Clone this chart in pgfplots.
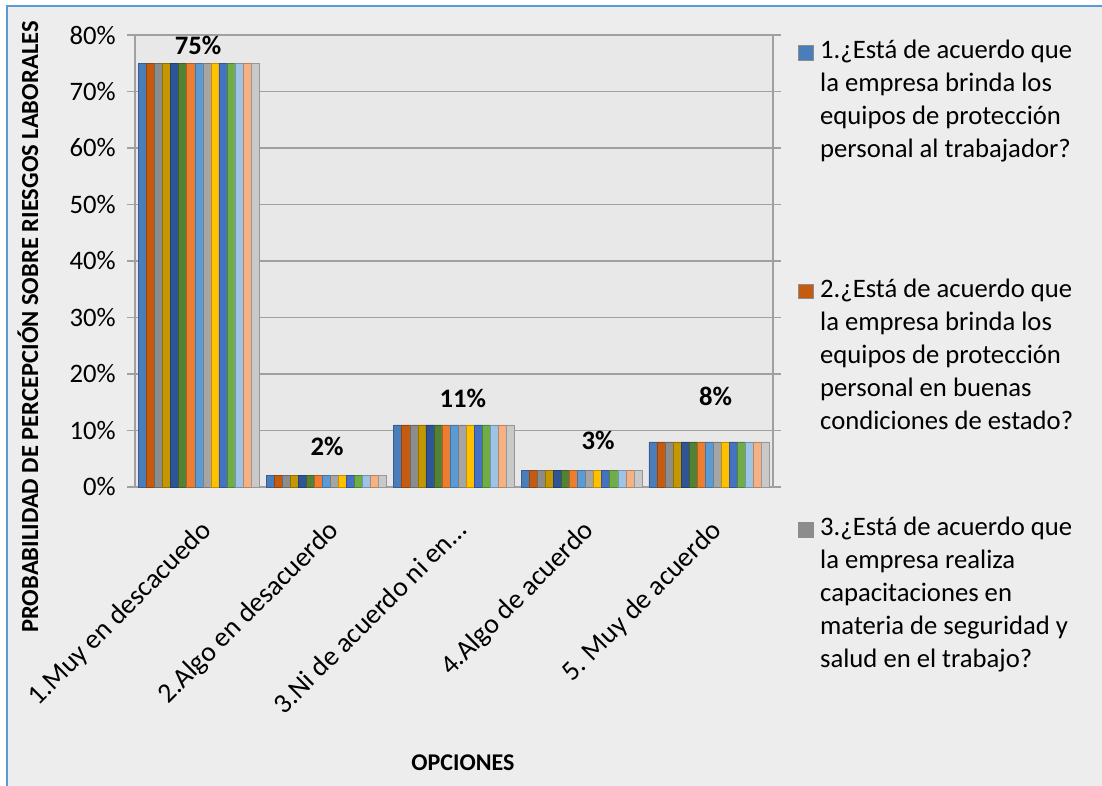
\documentclass[border=0pt]{standalone}
\usepackage{fontspec}
\setmainfont{Carlito}
\usepackage{pgfplots}
\pgfplotsset{compat=1.18}
\definecolor{bg}{HTML}{EDEDED}
\definecolor{wall}{HTML}{E8E8E8}
\definecolor{bord}{HTML}{5B9BD5}
\definecolor{gridc}{HTML}{A0A0A0}
\definecolor{c1}{HTML}{4A7EBB}
\definecolor{c2}{HTML}{C55A11}
\definecolor{c3}{HTML}{8C8C8C}
\definecolor{c4}{HTML}{C49600}
\definecolor{c5}{HTML}{2F5597}
\definecolor{c6}{HTML}{548235}
\definecolor{c7}{HTML}{ED7D31}
\definecolor{c8}{HTML}{5B9BD5}
\definecolor{c9}{HTML}{A5A5A5}
\definecolor{c10}{HTML}{FFC000}
\definecolor{c11}{HTML}{4472C4}
\definecolor{c12}{HTML}{70AD47}
\definecolor{c13}{HTML}{9DC3E6}
\definecolor{c14}{HTML}{F4B183}
\definecolor{c15}{HTML}{C9C9C9}
\newcommand\fs{\fontsize{20}{24}\selectfont}
\newcommand\legtext[1]{\parbox[t][179pt][t]{225pt}{\fontsize{20}{24.75}\selectfont #1}}
\pgfplotsset{
  mybar/.style={ybar, bar width=0.063, bar shift=#1},
  sq/.style={legend image code/.code={\draw[##1, draw=black!45, line width=0.4pt] (0pt,-1pt) rectangle (11pt,10pt);}},
}
\begin{document}
\begin{tikzpicture}
\path[use as bounding box] (0,0) rectangle (826.5pt,588.75pt);
\fill[white] (0,0) rectangle (826.5pt,588.75pt);
\draw[fill=bg, draw=bord, line width=1.5pt] (5.25pt,-5pt) rectangle (835pt,584.25pt);
\begin{axis}[
  at={(101.25pt,223.5pt)}, anchor=south west,
  scale only axis, width=478.5pt, height=339pt,
  xmin=0.5, xmax=5.5, ymin=0, ymax=80,
  axis background/.style={fill=wall},
  axis line style={draw=gridc, line width=1.1pt},
  ymajorgrids, grid style={draw=gridc, line width=1.1pt},
  tick align=outside, tick style={draw=gridc, line width=1pt},
  major tick length=6pt,
  ytick={0,10,...,80},
  yticklabel={\pgfmathprintnumber{\tick}\%},
  /pgf/number format/assume math mode=true,
  xtick={1,2,3,4,5},
  xticklabels={1.Muy en descacuedo, 2.Algo en desacuerdo, 3.Ni de acuerdo ni en…, 4.Algo de acuerdo, 5. Muy de acuerdo},
  x tick style={draw=none},
  extra x ticks={0.5,1.5,2.5,3.5,4.5,5.5},
  extra x tick labels={},
  extra x tick style={tick style={draw=gridc, line width=1pt}},
  xticklabel style={font=\fontsize{20.8}{24}\selectfont, rotate=45, anchor=north east, xshift=-9pt, yshift=-9pt},
  yticklabel style={font=\fs, xshift=-5pt},
  xlabel={\bfseries OPCIONES},
  xlabel style={font=\fontsize{18}{21}\selectfont, at={(axis description cs:0.514,-0.611)}, anchor=center},
  ylabel={\bfseries PROBABILIDAD DE PERCEPCIÓN SOBRE RIESGOS LABORALES},
  ylabel style={font=\fontsize{18.4}{21}\selectfont, at={(axis description cs:-0.168,0.354)}, anchor=center, rotate=0},
  legend style={at={(axis description cs:1.033,0.9956)}, anchor=north west, draw=none, fill=none,
    nodes={inner sep=0pt, anchor=base west, text depth={}, text height={}}, row sep=0pt, column sep=5pt},
  legend cell align=left,
]
\addplot[mybar=-0.441, fill=c1, draw=c1!75!black, sq] coordinates {(1,75) (2,2) (3,11) (4,3) (5,8)};
\addlegendentry{\legtext{1.¿Está de acuerdo que\\la empresa brinda los\\equipos de protección\\personal al trabajador?}}
\addplot[mybar=-0.378, fill=c2, draw=c2!75!black, sq] coordinates {(1,75) (2,2) (3,11) (4,3) (5,8)};
\addlegendentry{\legtext{2.¿Está de acuerdo que\\la empresa brinda los\\equipos de protección\\personal en buenas\\condiciones de estado?}}
\addplot[mybar=-0.315, fill=c3, draw=c3!75!black, sq] coordinates {(1,75) (2,2) (3,11) (4,3) (5,8)};
\addlegendentry{\legtext{3.¿Está de acuerdo que\\la empresa realiza\\capacitaciones en\\materia de seguridad y\\salud en el trabajo?}}
\addplot[mybar=-0.252, fill=c4, draw=c4!75!black, forget plot] coordinates {(1,75) (2,2) (3,11) (4,3) (5,8)};
\addplot[mybar=-0.189, fill=c5, draw=c5!75!black, forget plot] coordinates {(1,75) (2,2) (3,11) (4,3) (5,8)};
\addplot[mybar=-0.126, fill=c6, draw=c6!75!black, forget plot] coordinates {(1,75) (2,2) (3,11) (4,3) (5,8)};
\addplot[mybar=-0.063, fill=c7, draw=c7!75!black, forget plot] coordinates {(1,75) (2,2) (3,11) (4,3) (5,8)};
\addplot[mybar=0, fill=c8, draw=c8!75!black, forget plot] coordinates {(1,75) (2,2) (3,11) (4,3) (5,8)};
\addplot[mybar=0.063, fill=c9, draw=c9!75!black, forget plot] coordinates {(1,75) (2,2) (3,11) (4,3) (5,8)};
\addplot[mybar=0.126, fill=c10, draw=c10!75!black, forget plot] coordinates {(1,75) (2,2) (3,11) (4,3) (5,8)};
\addplot[mybar=0.189, fill=c11, draw=c11!75!black, forget plot] coordinates {(1,75) (2,2) (3,11) (4,3) (5,8)};
\addplot[mybar=0.252, fill=c12, draw=c12!75!black, forget plot] coordinates {(1,75) (2,2) (3,11) (4,3) (5,8)};
\addplot[mybar=0.315, fill=c13, draw=c13!75!black, forget plot] coordinates {(1,75) (2,2) (3,11) (4,3) (5,8)};
\addplot[mybar=0.378, fill=c14, draw=c14!75!black, forget plot] coordinates {(1,75) (2,2) (3,11) (4,3) (5,8)};
\addplot[mybar=0.441, fill=c15, draw=c15!75!black, forget plot] coordinates {(1,75) (2,2) (3,11) (4,3) (5,8)};
\addplot[draw=none, mark=none, forget plot, point meta=explicit symbolic,
  nodes near coords, every node near coord/.style={font=\fs\bfseries, anchor=center}]
  coordinates {(0.994,78.2)[75\%] (2.005,7.1)[2\%] (3.07,15.75)[11\%] (4.13,8.3)[3\%] (5.05,16.1)[8\%]};
\end{axis}
\end{tikzpicture}
\end{document}
